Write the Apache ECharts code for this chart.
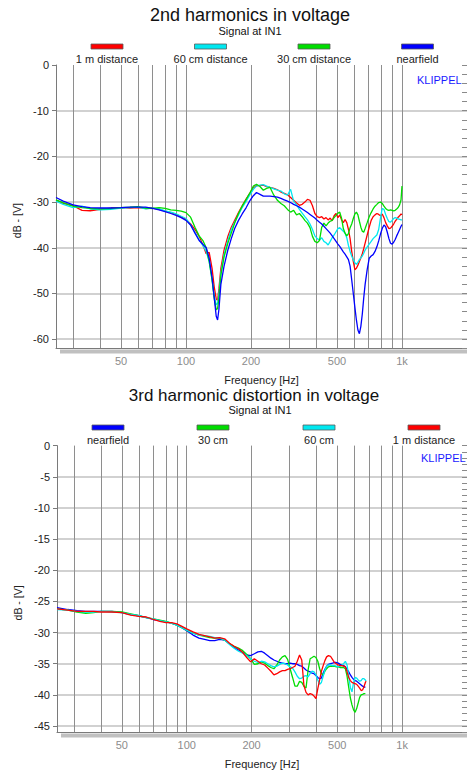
<!DOCTYPE html>
<html><head><meta charset="utf-8">
<script src="https://cdn.jsdelivr.net/npm/echarts@6/dist/echarts.min.js"></script>
<style>html,body{margin:0;padding:0;background:#fff}#c{width:467px;height:774px}</style>
</head><body><div id="c"></div>
<script>
// ---------- 2nd harmonics (top chart) ----------
const freq2 = [25,27,30,33,36,40,45,50,55,60,65,70,75,80,85,90,95,100,
105,110,115,120,124,128,132,135,138,140,142,145,150,156,162,168,175,182,190,198,
205,212,220,228,236,245,255,265,275,285,295,305,315,325,335,345,355,365,375,385,395,405,415,425,435,445,455,465,475,485,495,505,515,525,535,545,555,
565,575,585,595,605,615,625,635,645,655,665,675,690,705,720,735,750,765,780,795,810,825,840,855,870,885,900,915,930,945,960,975,990,1000];
const h2_1m = [-29.6,-30.3,-30.8,-31.8,-31.9,-31.6,-31.3,-31.2,-31.3,-31.2,-31.4,-31.3,-31.6,-32.0,-32.3,-32.7,-33.3,-33.8,
-34.8,-36.0,-37.5,-39.5,-41.3,-41.0,-44.5,-48.5,-51.2,-51.5,-49.0,-44.5,-40.5,-37.6,-35.5,-34.0,-32.3,-30.8,-29.3,-28.0,
-26.9,-26.4,-26.4,-26.3,-26.6,-26.8,-27.0,-27.3,-27.8,-28.1,-28.4,-29.0,-29.6,-30.2,-30.7,-30.5,-30.0,-29.4,-29.6,-30.8,-32.5,-33.2,-33.4,-33.2,-33.7,-33.4,-33.9,-33.5,-34.1,-33.0,-32.5,-33.4,-32.8,-33.9,-34.5,-33.8,-34.5,
-36.0,-38.0,-40.8,-43.0,-44.8,-44.5,-43.8,-43.0,-42.2,-41.3,-40.2,-39.0,-37.2,-35.5,-34.0,-33.2,-32.8,-32.5,-32.7,-33.0,-32.6,-33.4,-34.5,-35.2,-35.8,-35.7,-35.3,-34.8,-34.2,-33.8,-33.3,-33.0,-32.6,-32.8];
const h2_60cm = [-29.8,-30.5,-31.2,-30.9,-31.5,-31.7,-31.6,-31.3,-31.2,-31.1,-31.5,-31.3,-31.5,-31.9,-32.2,-32.6,-33.1,-33.6,
-35.0,-36.6,-38.2,-39.6,-40.8,-43.0,-47.0,-50.5,-52.5,-52.2,-50.0,-45.5,-41.5,-38.5,-36.0,-34.4,-32.8,-31.2,-29.8,-28.3,
-27.2,-26.5,-26.3,-26.2,-26.5,-26.8,-27.1,-27.4,-27.6,-28.2,-28.5,-27.2,-29.8,-30.6,-31.6,-32.4,-33.2,-33.9,-34.8,-36.0,-37.4,-38.0,-38.3,-37.8,-38.6,-38.9,-39.4,-38.6,-37.8,-37.2,-36.5,-35.8,-35.6,-36.0,-36.4,-36.8,-37.8,
-39.5,-40.8,-41.8,-42.6,-43.3,-43.6,-43.2,-42.6,-42.2,-41.8,-41.2,-40.5,-39.8,-39.2,-38.6,-38.0,-37.6,-37.2,-36.0,-33.5,-31.4,-31.6,-32.7,-33.6,-34.3,-34.4,-34.0,-33.6,-33.4,-33.5,-33.7,-33.8,-33.9,-33.9];
const h2_30cm = [-29.5,-30.1,-30.9,-31.2,-31.4,-31.5,-31.4,-31.2,-31.1,-31.0,-31.3,-31.4,-31.2,-31.4,-31.7,-31.8,-32.0,-32.3,
-33.3,-35.5,-37.4,-38.5,-40.0,-43.0,-47.0,-51.0,-53.6,-53.3,-51.0,-46.0,-42.0,-39.1,-36.8,-34.6,-32.5,-30.9,-29.4,-27.9,
-26.5,-26.1,-26.6,-27.4,-27.0,-26.8,-28.5,-29.6,-30.3,-30.8,-31.6,-32.2,-31.8,-32.8,-32.5,-33.2,-34.0,-34.6,-35.6,-37.5,-38.6,-38.9,-38.4,-35.5,-34.6,-35.2,-34.6,-34.2,-34.0,-33.4,-32.9,-32.4,-32.2,-33.5,-35.8,-36.8,-37.4,
-36.9,-35.6,-34.8,-33.6,-32.6,-32.2,-32.8,-34.2,-35.5,-36.4,-36.6,-35.8,-34.5,-33.2,-32.3,-31.5,-30.9,-30.5,-30.1,-30.0,-30.3,-30.9,-31.4,-31.7,-31.8,-31.7,-31.8,-31.9,-31.8,-31.5,-31.2,-30.6,-29.5,-26.5];
const h2_near = [-29.0,-29.8,-30.6,-31.0,-31.2,-31.3,-31.3,-31.2,-31.1,-31.1,-31.1,-31.4,-31.7,-32.1,-32.5,-32.9,-33.4,-34.0,
-35.0,-36.8,-38.4,-39.3,-40.0,-42.3,-46.5,-50.8,-55.0,-55.8,-53.5,-48.0,-44.0,-40.6,-38.0,-35.8,-34.0,-32.6,-31.2,-29.6,
-28.6,-27.9,-28.3,-28.7,-28.7,-28.7,-28.8,-28.9,-29.2,-29.5,-29.8,-30.1,-30.5,-30.8,-31.1,-31.5,-31.9,-32.3,-32.7,-33.1,-33.5,-34.0,-34.4,-34.8,-35.3,-35.8,-36.3,-36.8,-37.4,-38.0,-38.6,-39.2,-39.7,-40.3,-40.9,-41.4,-42.0,
-42.6,-44.0,-47.0,-50.0,-53.0,-55.8,-58.0,-58.8,-57.2,-54.5,-51.0,-48.0,-44.8,-42.3,-41.8,-41.5,-40.8,-39.8,-38.5,-37.0,-35.8,-35.0,-35.4,-36.6,-38.0,-39.0,-39.2,-38.8,-38.2,-37.4,-36.7,-36.0,-35.3,-34.9];

// ---------- 3rd harmonic (bottom chart) ----------
const freq3 = [25,28,31,34,37,40,45,50,55,60,65,70,75,80,85,90,95,100,
107,114,121,128,135,142,
150,158,166,174,182,190,198,206,214,222,230,238,246,254,262,270,278,286,294,302,310,318,326,334,342,350,358,366,374,382,390,398,406,414,422,430,438,446,
455,465,475,485,495,505,515,525,535,545,555,565,575,585,595,605,615,625,635,645,655,665,675,680];
const h3_near = [-26.0,-26.3,-26.5,-26.6,-26.6,-26.6,-26.6,-26.8,-27.1,-27.3,-27.6,-27.9,-28.1,-28.3,-28.5,-28.8,-29.2,-29.7,
-30.4,-30.9,-31.1,-31.3,-31.3,-31.1,
-31.2,-31.8,-32.4,-32.8,-33.2,-33.6,-33.7,-33.4,-33.1,-33.0,-33.3,-33.7,-34.1,-34.4,-34.6,-34.8,-34.9,-35.0,-35.0,-34.9,-35.0,-35.0,-35.1,-35.3,-35.4,-35.7,-36.0,-36.2,-36.3,-36.5,-36.6,-36.9,-37.2,-37.4,-37.3,-36.5,-35.9,-35.4,
-35.1,-35.0,-34.9,-34.8,-34.8,-34.9,-35.1,-35.2,-35.3,-35.5,-35.9,-36.3,-36.8,-37.2,-37.5,-37.7,-37.8,-38.0,-38.2,-38.4,-38.6,-38.7,-38.8,-38.8];
const h3_30cm = [-26.2,-26.4,-26.7,-26.9,-26.8,-26.6,-26.6,-26.7,-27.0,-27.3,-27.6,-27.8,-28.0,-28.2,-28.5,-28.8,-29.2,-29.6,
-30.1,-30.4,-30.6,-30.8,-30.9,-30.9,
-31.2,-31.8,-32.2,-32.5,-32.9,-33.5,-34.2,-35.1,-35.0,-34.7,-34.9,-35.3,-35.6,-35.8,-35.2,-34.4,-33.9,-33.7,-34.3,-35.8,-37.2,-38.6,-38.6,-37.8,-38.0,-38.6,-38.9,-36.0,-34.2,-34.0,-33.8,-34.0,-34.6,-35.8,-36.6,-36.8,-36.2,-35.8,
-35.5,-35.4,-35.4,-35.4,-35.5,-35.5,-35.6,-35.6,-35.6,-35.8,-37.0,-38.8,-40.5,-41.6,-42.4,-42.8,-42.2,-41.3,-40.4,-40.0,-39.9,-39.8,-39.8,-39.8];
const h3_60cm = [-26.3,-26.4,-26.6,-26.7,-26.7,-26.6,-26.7,-26.8,-27.1,-27.3,-27.6,-27.8,-28.1,-28.3,-28.5,-28.8,-29.2,-29.6,
-30.1,-30.4,-30.5,-30.6,-30.8,-30.8,
-31.2,-31.9,-32.5,-33.0,-33.3,-33.7,-34.2,-34.6,-34.8,-34.6,-34.7,-35.0,-35.3,-35.5,-35.4,-35.1,-34.9,-35.0,-35.2,-35.5,-35.7,-36.3,-37.0,-37.4,-37.3,-37.0,-36.9,-37.1,-36.6,-36.2,-36.3,-36.8,-37.6,-38.3,-38.0,-37.0,-36.0,-35.4,
-35.2,-35.2,-35.3,-35.3,-35.4,-35.5,-35.4,-35.2,-35.0,-34.6,-35.2,-37.0,-38.8,-39.5,-38.0,-37.2,-37.3,-37.6,-37.8,-37.7,-37.4,-37.4,-37.6,-37.8];
const h3_1m = [-26.2,-26.4,-26.6,-26.6,-26.6,-26.7,-26.7,-26.8,-27.2,-27.4,-27.5,-27.9,-28.2,-28.4,-28.4,-28.6,-29.0,-29.4,
-29.9,-30.3,-30.5,-30.7,-30.9,-30.8,
-31.0,-31.7,-32.2,-32.6,-33.2,-34.0,-34.7,-34.2,-34.6,-35.0,-35.2,-35.7,-36.2,-36.8,-36.6,-36.3,-36.1,-36.1,-35.9,-35.8,-35.6,-35.4,-34.6,-33.6,-34.4,-38.5,-39.6,-40.0,-39.8,-39.9,-40.2,-40.6,-39.0,-37.6,-36.2,-35.3,-34.5,-33.9,
-33.7,-33.8,-34.3,-34.8,-35.0,-35.2,-35.3,-35.3,-35.4,-35.5,-36.3,-37.2,-37.7,-38.0,-38.1,-38.2,-38.3,-38.6,-38.9,-39.3,-39.2,-38.7,-38.0,-37.8];

// ---------- axis ticks / labels ----------
const xLabelFreqs = [50, 100, 200, 500, 1000];
const xGridFreqs = [30,40,50,60,70,80,90,100,200,300,400,500,600,700,800,900,1000];
const y2Major = [-60,-50,-40,-30,-20,-10,0];
const y3Major = [-45,-40,-35,-30,-25,-20,-15,-10,-5,0];

const RED = '#ff0000', CYAN = '#00e8f0', GREEN = '#00dd00', BLUE = '#0000ff';
const FONT = "'Liberation Sans', Arial, Helvetica, sans-serif";

const zip = (f, v) => f.map((x, i) => [x, v[i]]);
const fmtHz = v => { const r = Math.round(v); return r >= 1000 ? (r / 1000) + 'k' : String(r); };

function xAxisCfg(gi, gap) {
  return {
    gridIndex: gi, type: 'log', logBase: 10, min: 25, max: 2000,
    axisLine: { show: true, onZero: false, lineStyle: { color: '#7a7a7a', width: 1 } },
    axisTick: { show: false, customValues: xGridFreqs },
    axisLabel: { customValues: xLabelFreqs, formatter: fmtHz, color: '#8c8c8c', fontSize: 11, fontFamily: FONT, margin: 7 },
    splitLine: { show: true, lineStyle: { color: '#8e8e8e', width: 1 } },
    minorTick: { show: false }, minorSplitLine: { show: false },
    name: 'Frequency [Hz]', nameLocation: 'middle', nameGap: gap,
    nameTextStyle: { color: '#222', fontSize: 11, fontFamily: FONT }
  };
}
function yMajorCfg(gi, min, step, major) {
  return {
    gridIndex: gi, type: 'value', min: min, max: 0, interval: step,
    axisLine: { show: true, onZero: false, lineStyle: { color: '#7a7a7a', width: 1 } },
    axisTick: { show: true, inside: false, length: 4, customValues: major, lineStyle: { color: '#7a7a7a' } },
    axisLabel: { customValues: major, color: '#222', fontSize: 11, fontFamily: FONT, margin: 7 },
    splitLine: { show: true, showMaxLine: false, lineStyle: { color: '#c2c2c2', width: 1.5 } },
    name: 'dB - [V]', nameLocation: 'middle', nameGap: 29,
    nameTextStyle: { color: '#222', fontSize: 10.5, fontFamily: FONT, padding: [0, 28, 0, 0] }
  };
}
function yMinorCfg(gi, min, step) {
  return {
    gridIndex: gi, type: 'value', min: min, max: 0, interval: step,
    axisLine: { show: false, onZero: false },
    axisTick: { show: true, inside: true, length: 5, lineStyle: { color: '#8a8a8a' } },
    axisLabel: { show: false }, splitLine: { show: false }
  };
}
function line(name, f, v, color, xi, yi) {
  return { type: 'line', name: name, xAxisIndex: xi, yAxisIndex: yi, data: zip(f, v),
    showSymbol: false, symbol: 'none', animation: false,
    lineStyle: { color: color, width: 1.3 }, itemStyle: { color: color } };
}
function legendItem(x, y, color, label) {
  return [
    { type: 'rect', shape: { x: x, y: y, width: 32, height: 5 }, style: { fill: color, stroke: '#5a5a5a', lineWidth: 0.8 } },
    { type: 'text', x: x + 16, y: y + 15, style: { text: label, fill: '#222', font: '11px ' + FONT, textAlign: 'center', textVerticalAlign: 'middle' } }
  ];
}

const chart = echarts.init(document.getElementById('c'), null, { renderer: 'svg' });
chart.setOption({
  backgroundColor: '#fff',
  animation: false,
  title: [
    { text: '2nd harmonics in voltage', left: 250, top: 6, textAlign: 'center', padding: 0,
      textStyle: { fontSize: 18, fontWeight: 'normal', color: '#111', fontFamily: FONT } },
    { text: 'Signal at IN1', left: 250, top: 25, textAlign: 'center', padding: 0,
      textStyle: { fontSize: 11, fontWeight: 'normal', color: '#111', fontFamily: FONT } },
    { text: '3rd harmonic distortion in voltage', left: 254, top: 387, textAlign: 'center', padding: 0,
      textStyle: { fontSize: 17, fontWeight: 'normal', color: '#111', fontFamily: FONT } },
    { text: 'Signal at IN1', left: 260, top: 404, textAlign: 'center', padding: 0,
      textStyle: { fontSize: 11, fontWeight: 'normal', color: '#111', fontFamily: FONT } }
  ],
  grid: [
    { left: 56, top: 65, width: 413, height: 283.3, containLabel: false },
    { left: 57, top: 445.6, width: 420.6, height: 286.7, containLabel: false }
  ],
  xAxis: [ xAxisCfg(0, 26), xAxisCfg(1, 26) ],
  yAxis: [ yMajorCfg(0, -62, 2, y2Major), yMinorCfg(0, -62, 2), yMajorCfg(1, -46, 1, y3Major), yMinorCfg(1, -46, 1) ],
  series: [
    line('1 m distance', freq2, h2_1m, RED, 0, 0),
    line('60 cm distance', freq2, h2_60cm, CYAN, 0, 0),
    line('30 cm distance', freq2, h2_30cm, GREEN, 0, 0),
    line('nearfield', freq2, h2_near, BLUE, 0, 0),
    line('nearfield', freq3, h3_near, BLUE, 1, 2),
    line('30 cm', freq3, h3_30cm, GREEN, 1, 2),
    line('60 cm', freq3, h3_60cm, CYAN, 1, 2),
    line('1 m distance', freq3, h3_1m, RED, 1, 2)
  ],
  graphic: [].concat(
    legendItem(91, 44, RED, '1 m distance'),
    legendItem(194.5, 44, CYAN, '60 cm distance'),
    legendItem(298, 44, GREEN, '30 cm distance'),
    legendItem(401.5, 44, BLUE, 'nearfield'),
    legendItem(92, 425, BLUE, 'nearfield'),
    legendItem(197, 425, GREEN, '30 cm'),
    legendItem(303, 425, CYAN, '60 cm'),
    legendItem(408, 425, RED, '1 m distance'),
    [
      { type: 'text', x: 417, y: 80, style: { text: 'KLIPPEL', fill: '#1a1aff', font: '11px ' + FONT, textVerticalAlign: 'middle' } },
      { type: 'text', x: 421, y: 457.5, style: { text: 'KLIPPEL', fill: '#1a1aff', font: '11px ' + FONT, textVerticalAlign: 'middle' } },
      { type: 'rect', shape: { x: 60, y: 349.5, width: 407, height: 4 }, style: { fill: '#c0c0c0' } },
      { type: 'rect', shape: { x: 61, y: 733.5, width: 406, height: 4 }, style: { fill: '#c0c0c0' } }
    ]
  )
});
</script>
</body></html>
